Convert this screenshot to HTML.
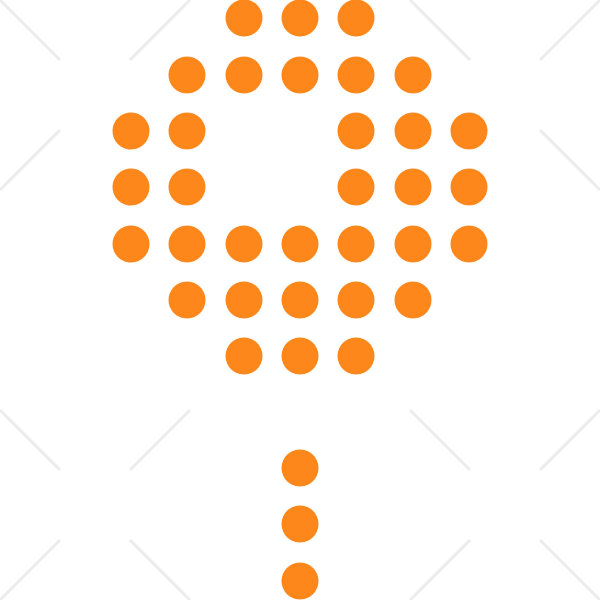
<!DOCTYPE html>
<html><head><meta charset="utf-8"><style>html,body{margin:0;padding:0;background:#fff}</style></head>
<body>
<svg width="600" height="600" viewBox="0 0 600 600" xmlns="http://www.w3.org/2000/svg">
<g stroke="#ececec" stroke-width="3">
<line x1="0" y1="0" x2="60" y2="60"/><line x1="190" y1="0" x2="130" y2="60"/>
<line x1="410" y1="0" x2="470" y2="60"/><line x1="600" y1="0" x2="540" y2="60"/>
<line x1="0" y1="190" x2="60" y2="130"/><line x1="600" y1="190" x2="540" y2="130"/>
<line x1="0" y1="410" x2="60" y2="470"/><line x1="600" y1="410" x2="540" y2="470"/>
<line x1="0" y1="600" x2="60" y2="540"/><line x1="190" y1="600" x2="130" y2="540"/>
<line x1="410" y1="600" x2="470" y2="540"/><line x1="600" y1="600" x2="540" y2="540"/>
<line x1="190" y1="410" x2="130" y2="470"/><line x1="410" y1="410" x2="470" y2="470"/>
</g>
<g fill="#fe871c">
<circle cx="244" cy="18" r="18.5"/><circle cx="300" cy="18" r="18.5"/><circle cx="356" cy="18" r="18.5"/>
<circle cx="187" cy="75" r="18.5"/><circle cx="244" cy="75" r="18.5"/><circle cx="300" cy="75" r="18.5"/><circle cx="356" cy="75" r="18.5"/><circle cx="413" cy="75" r="18.5"/>
<circle cx="131" cy="131" r="18.5"/><circle cx="187" cy="131" r="18.5"/><circle cx="356" cy="131" r="18.5"/><circle cx="413" cy="131" r="18.5"/><circle cx="469" cy="131" r="18.5"/>
<circle cx="131" cy="187" r="18.5"/><circle cx="187" cy="187" r="18.5"/><circle cx="356" cy="187" r="18.5"/><circle cx="413" cy="187" r="18.5"/><circle cx="469" cy="187" r="18.5"/>
<circle cx="131" cy="244" r="18.5"/><circle cx="187" cy="244" r="18.5"/><circle cx="244" cy="244" r="18.5"/><circle cx="300" cy="244" r="18.5"/><circle cx="356" cy="244" r="18.5"/><circle cx="413" cy="244" r="18.5"/><circle cx="469" cy="244" r="18.5"/>
<circle cx="187" cy="300" r="18.5"/><circle cx="244" cy="300" r="18.5"/><circle cx="300" cy="300" r="18.5"/><circle cx="356" cy="300" r="18.5"/><circle cx="413" cy="300" r="18.5"/>
<circle cx="244" cy="356" r="18.5"/><circle cx="300" cy="356" r="18.5"/><circle cx="356" cy="356" r="18.5"/>
<circle cx="300" cy="468" r="18.5"/><circle cx="300" cy="524" r="18.5"/><circle cx="300" cy="581" r="18.5"/>
</g>
</svg>
</body></html>
